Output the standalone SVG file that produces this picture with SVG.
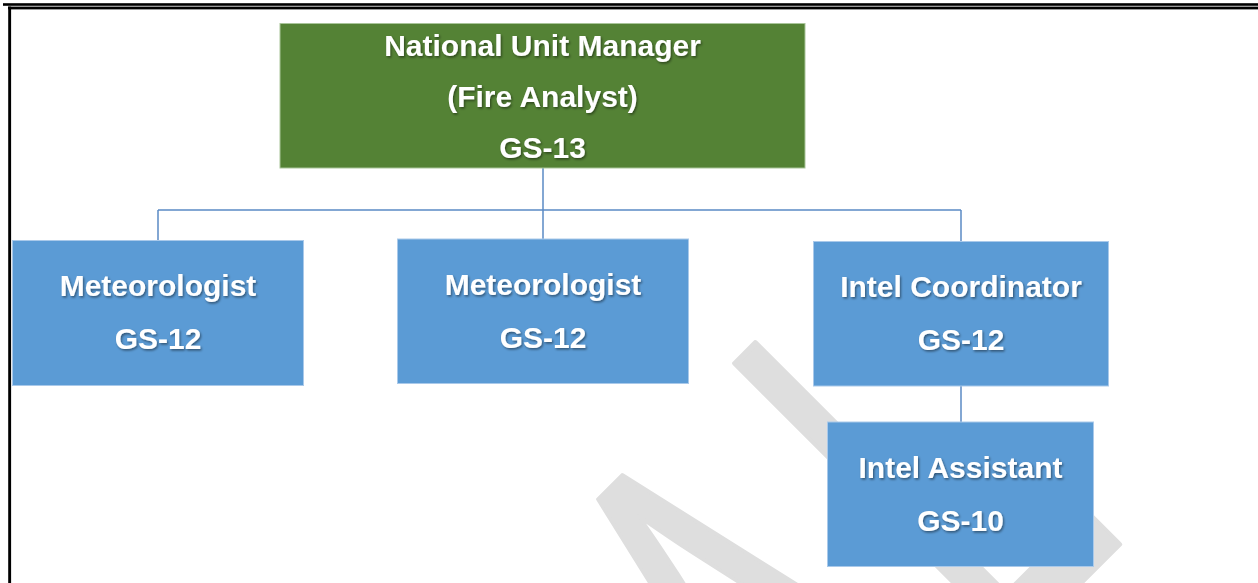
<svg xmlns="http://www.w3.org/2000/svg" width="1258" height="583" viewBox="0 0 1258 583">
  <defs>
    <filter id="sh" x="-10%" y="-30%" width="120%" height="160%">
      <feDropShadow dx="1.2" dy="1.6" stdDeviation="0.9" flood-color="#000" flood-opacity="0.45"/>
    </filter>
    <style>
      .box { fill: #5b9bd5; stroke: #a9c9ea; stroke-width: 1; }
      .top { fill: #548235; stroke: #a9c59a; stroke-width: 1; }
      .lbl { font-family: "Liberation Sans", Arial, sans-serif; font-weight: bold; font-size: 30px; fill: #ffffff; text-anchor: middle; filter: url(#sh); }
      .conn { stroke: #5a8ac4; stroke-width: 1.5; fill: none; }
      .wm { font-family: "Liberation Sans", Arial, sans-serif; font-size: 580px; fill: #dedede; stroke: #dedede; stroke-width: 6; stroke-linejoin: round; }
    </style>
  </defs>
  <rect width="1258" height="583" fill="#ffffff"/>
  <!-- page border -->
  <g id="border">
    <rect x="3" y="3.2" width="1255" height="2.6" fill="#000"/>
    <rect x="8" y="6.6" width="1250" height="2.8" fill="#000"/>
    <rect x="8.2" y="6.6" width="2.9" height="576.4" fill="#000"/>
  </g>
  <!-- watermark -->
  <g id="watermark">
    <text class="wm" letter-spacing="67" transform="rotate(-45) translate(-24 1176) scale(0.57 1)">AL</text>
  </g>
  <g id="connectors">
    <line class="conn" x1="543" y1="168" x2="543" y2="239"/>
    <line class="conn" x1="158" y1="210" x2="961" y2="210"/>
    <line class="conn" x1="158" y1="210" x2="158" y2="240"/>
    <line class="conn" x1="961" y1="210" x2="961" y2="241"/>
    <line class="conn" x1="961" y1="386" x2="961" y2="422"/>
  </g>
  <g id="manager">
    <rect class="top" x="280" y="23.5" width="525" height="144.5"/>
    <text class="lbl" x="542.5" y="56">National Unit Manager</text>
    <text class="lbl" x="542.5" y="107">(Fire Analyst)</text>
    <text class="lbl" x="542.5" y="158">GS-13</text>
  </g>
  <g id="meteorologist1">
    <rect class="box" x="12.5" y="240.5" width="291" height="145"/>
    <text class="lbl" x="158" y="296">Meteorologist</text>
    <text class="lbl" x="158" y="349">GS-12</text>
  </g>
  <g id="meteorologist2">
    <rect class="box" x="397.5" y="239" width="291" height="144.5"/>
    <text class="lbl" x="543" y="294.5">Meteorologist</text>
    <text class="lbl" x="543" y="347.5">GS-12</text>
  </g>
  <g id="intel-coordinator">
    <rect class="box" x="813.5" y="241.5" width="295" height="144.5"/>
    <text class="lbl" x="961" y="297">Intel Coordinator</text>
    <text class="lbl" x="961" y="350">GS-12</text>
  </g>
  <g id="intel-assistant">
    <rect class="box" x="827.5" y="422" width="266" height="144.5"/>
    <text class="lbl" x="960.5" y="477.5">Intel Assistant</text>
    <text class="lbl" x="960.5" y="530.5">GS-10</text>
  </g>
</svg>
